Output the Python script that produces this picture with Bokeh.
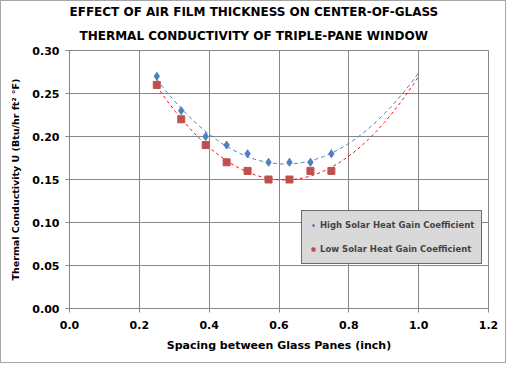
import numpy as np
from bokeh.plotting import figure
from bokeh.models import Range1d, FixedTicker, NumeralTickFormatter, Legend, LegendItem, Title
from bokeh.embed import file_html
from bokeh.resources import INLINE

spacing = [0.25, 0.32, 0.39, 0.45, 0.51, 0.57, 0.63, 0.69, 0.75]
high_shgc = [0.27, 0.23, 0.20, 0.19, 0.18, 0.17, 0.17, 0.17, 0.18]
low_shgc = [0.26, 0.22, 0.19, 0.17, 0.16, 0.15, 0.15, 0.16, 0.16]
x_ticks = [0.0, 0.2, 0.4, 0.6, 0.8, 1.0, 1.2]
y_ticks = [0.00, 0.05, 0.10, 0.15, 0.20, 0.25, 0.30]
title_line1 = "EFFECT OF AIR FILM THICKNESS ON CENTER-OF-GLASS"
title_line2 = "THERMAL CONDUCTIVITY OF TRIPLE-PANE WINDOW"
trend_end = 1.0

FONT = "DejaVu Sans"
W, H = 506, 363
BL, BR, BT, BB = 68, 19, 49, 56

p = figure(width=W, height=H, output_backend="svg", toolbar_location=None,
           x_range=Range1d(0, 1.2), y_range=Range1d(0, 0.30),
           min_border_left=BL, min_border_right=BR, min_border_top=BT, min_border_bottom=BB)
p.styles = {"border": "1px solid #a6a6a6", "box-sizing": "border-box"}

def style_title(t, off, standoff):
    t.align = "left"
    t.offset = off
    t.text_font = FONT
    t.text_font_size = "12px"
    t.text_font_style = "bold"
    t.text_color = "black"
    t.text_line_height = 1.0
    t.standoff = standoff

p.title.text = title_line1
style_title(p.title, 0, 0)
t2 = Title(text=title_line2)
style_title(t2, 10, 16)
p.add_layout(t2, "above")

p.outline_line_color = "#868686"
for ax in (p.xaxis[0], p.yaxis[0]):
    ax.axis_line_color = "#868686"
    ax.major_tick_line_color = "#868686"
    ax.minor_tick_line_color = None
    ax.major_tick_in = 0
    ax.major_tick_out = 4
    ax.major_label_text_font = FONT
    ax.major_label_text_font_size = "11px"
    ax.major_label_text_font_style = "bold"
    ax.major_label_text_color = "black"
    ax.axis_label_text_font = FONT
    ax.axis_label_text_font_style = "bold"
    ax.axis_label_text_color = "black"

p.xaxis.axis_label_text_font_size = "11px"
p.yaxis.axis_label_text_font_size = "9.5px"
p.xaxis.ticker = FixedTicker(ticks=x_ticks)
p.yaxis.ticker = FixedTicker(ticks=y_ticks)
p.xaxis.formatter = NumeralTickFormatter(format="0.0")
p.yaxis.formatter = NumeralTickFormatter(format="0.00")
p.xaxis.axis_label = "Spacing between Glass Panes (inch)"
p.yaxis.axis_label = "Thermal Conductivity U (Btu/hr ft\u00b2 \u00b0F)"
p.xaxis.major_label_standoff = 8
p.yaxis.major_label_standoff = 6
p.xaxis.axis_label_standoff = 7
p.yaxis.axis_label_standoff = 8

p.xgrid.grid_line_color = "#868686"
p.ygrid.grid_line_color = "#868686"

xs = np.linspace(spacing[0], trend_end, 100)
ch = np.polyfit(spacing, high_shgc, 2)
cl = np.polyfit(spacing, low_shgc, 2)
p.line(xs, np.polyval(ch, xs), line_color="#4F81BD", line_dash="4 3", line_width=1)
p.line(xs, np.polyval(cl, xs), line_color="#FF0000", line_dash="3 3", line_width=1)

rh = p.scatter(spacing, high_shgc, marker="diamond", size=8, fill_color="#4F81BD", line_color="#4F81BD")
rl = p.scatter(spacing, low_shgc, marker="square", size=7, fill_color="#C0504D", line_color="#C0504D")

legend = Legend(items=[LegendItem(label="High Solar Heat Gain Coefficient", renderers=[rh]),
                       LegendItem(label="Low Solar Heat Gain Coefficient", renderers=[rl])],
                location=(232, 44))
legend.background_fill_color = "#d9d9d9"
legend.background_fill_alpha = 1
legend.border_line_color = "black"
legend.label_text_font = FONT
legend.label_text_font_size = "8.5px"
legend.label_text_font_style = "bold"
legend.glyph_width = 8
legend.glyph_height = 8
legend.label_standoff = 3
legend.spacing = 10
legend.padding = 7
legend.margin = 0
legend.label_height = 14
p.add_layout(legend, "center")

open("out.html", "w").write(file_html(p, INLINE))
